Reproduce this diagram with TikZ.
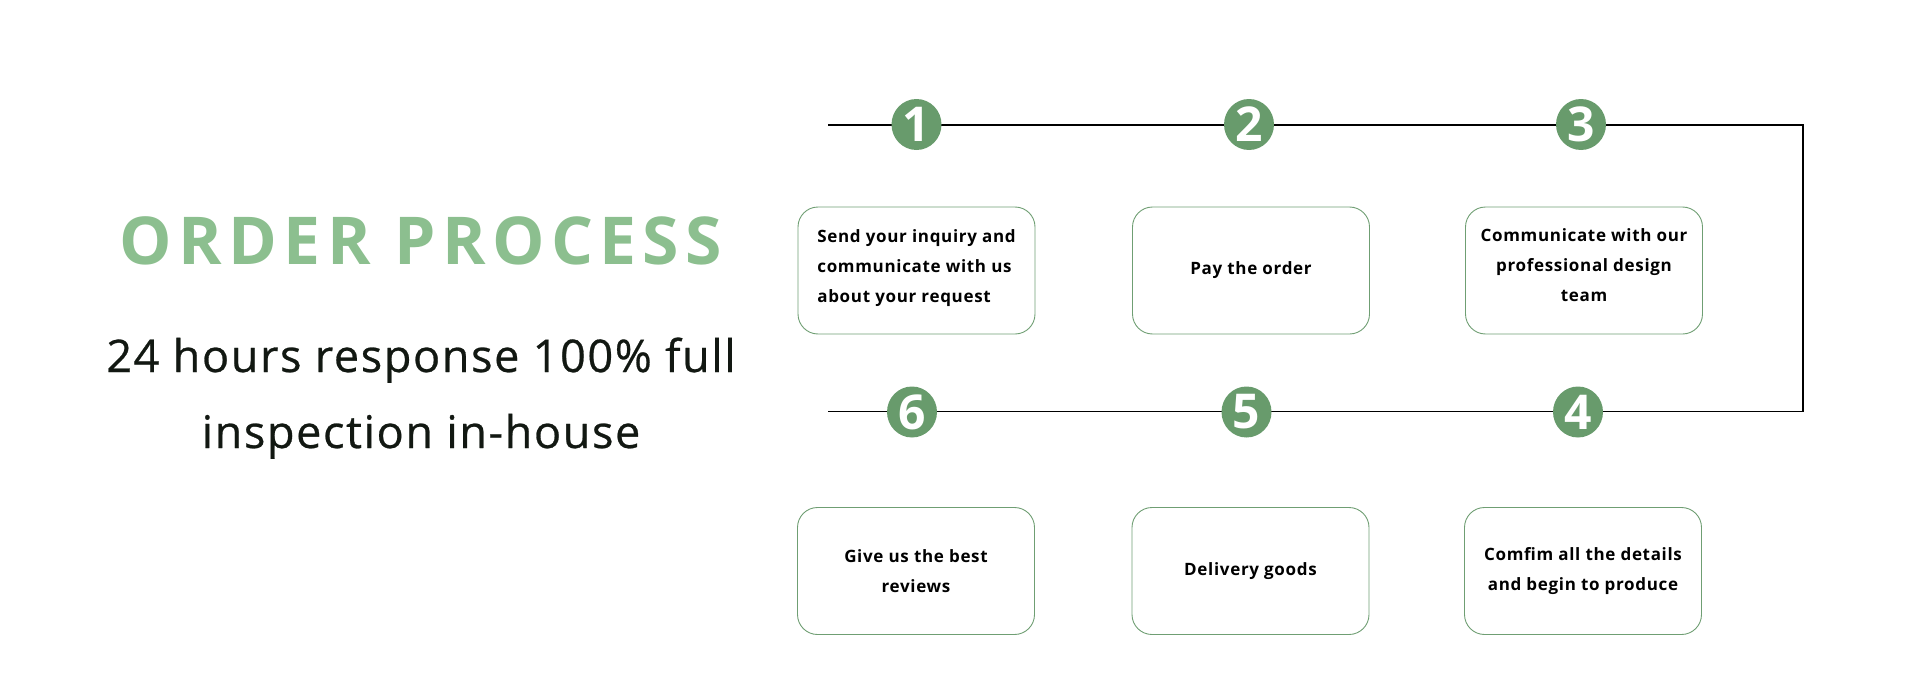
\documentclass[tikz,border=0pt]{standalone}
\usepackage{fontspec}
\setmainfont{Open Sans}
\newfontfamily\titlefont[LetterSpace=9.7]{Open Sans}
\newfontfamily\subfont[LetterSpace=3.6,FakeBold=0.6]{Open Sans}
\newfontfamily\boxfont[LetterSpace=4]{Open Sans}
\definecolor{titlegreen}{HTML}{8CBF8F}
\definecolor{dotgreen}{HTML}{689B6C}
\definecolor{boxgreen}{HTML}{6F9E73}
\definecolor{subblack}{HTML}{121812}
\tikzset{
  stepbox/.style={draw=boxgreen, line width=0.9pt, rounded corners=20pt,
    minimum width=237pt, minimum height=127pt, align=center, inner sep=0pt,
    font=\boxfont\bfseries\fontsize{17}{30}\selectfont, text=black},
  stepdot/.style={ellipse, fill=dotgreen, minimum width=50pt, minimum height=51pt,
    inner sep=0pt, text=white, font=\bfseries\fontsize{48}{48}\selectfont},
  flowline/.style={line width=1.8pt, black},
}
\usetikzlibrary{shapes.geometric}
\begin{document}
\begin{tikzpicture}[x=1pt,y=-1pt]
\useasboundingbox (0,0) rectangle (1920,693);
\node[anchor=base, text=titlegreen, font=\titlefont\bfseries\fontsize{66}{66}\selectfont] (title) at (421,264) {ORDER PROCESS};
\node[anchor=base, text=subblack, font=\subfont\fontsize{45}{45}\selectfont] (sub1) at (421,372) {24 hours response 100\% full};
\node[anchor=base, text=subblack, font=\subfont\fontsize{45}{45}\selectfont] (sub2) at (421,448) {inspection in-house};

\coordinate (tl) at (828,125);
\coordinate (tr) at (1803,125);
\coordinate (br) at (1803,411.5);
\coordinate (bl) at (828,411.5);
\draw[flowline] (tl) -- (tr) -- (br) -- (bl);

\node[stepdot] (d1) at (916.5,124.5) {1};
\node[stepdot] (d2) at (1249,124.5) {2};
\node[stepdot] (d3) at (1581,124.5) {3};
\node[stepdot] (d6) at (912,412) {6};
\node[stepdot] (d5) at (1246.5,412) {5};
\node[stepdot] (d4) at (1578,412) {4};

\node[stepbox, align=left] (b1) at (916.5,270.5) {Send your inquiry and\\communicate with us\\about your request\\[-21pt]};
\node[stepbox] (b2) at (1251,270.5) {Pay the order};
\node[stepbox] (b3) at (1584,270.5) {Communicate with our\\professional design\\team\\[-18.5pt]};
\node[stepbox] (b6) at (916,571) {Give us the best\\reviews};
\node[stepbox] (b5) at (1250.5,571) {Delivery goods};
\node[stepbox] (b4) at (1583,571) {Comfim all the details\\and begin to produce};
\end{tikzpicture}
\end{document}
